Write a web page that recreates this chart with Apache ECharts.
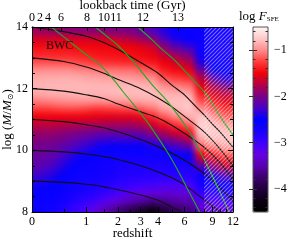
<!DOCTYPE html>
<html><head><meta charset="utf-8">
<style>
html,body{margin:0;padding:0;background:#fff}
#wrap{position:relative;width:304px;height:240px}
#heat,#c{position:absolute;left:0;top:0;width:304px;height:240px}
#heat{filter:blur(3px);clip-path:inset(27px 71px 28px 32px)}
</style>
<script src="https://cdn.jsdelivr.net/npm/echarts@6/dist/echarts.min.js"></script>
</head><body><div id="wrap"><div id="heat"></div><div id="c"></div></div>
<script>
// redshift column edges of the F_SFE map
const zEdges = [0,0.1,0.2,0.3,0.4,0.5,0.65,0.8,1.0,1.2,1.4,1.7,2.0,2.4,2.8,3.3,4.0,4.8,5.8,7.0,8.5,10,12];
// halo mass row edges (log M/Msun)
const massEdges = [8,8.25,8.5,8.75,9,9.25,9.5,9.75,10,10.25,10.5,10.75,11,11.25,11.5,11.75,12,12.25,12.5,12.75,13,13.25,13.5,13.75,14];
// log F_SFE per redshift column, rows from low to high mass
const logFsfe = [
[-2.6,-2.6,-2.55,-2.45,-2.32,-2.2,-2.12,-2.08,-2.02,-1.96,-1.85,-1.7,-1.5,-1.25,-1.05,-0.88,-0.83,-0.88,-1.0,-1.2,-1.35,-1.45,-1.6,-1.85],
[-2.62,-2.6,-2.55,-2.47,-2.35,-2.23,-2.14,-2.09,-2.03,-1.97,-1.85,-1.7,-1.5,-1.25,-1.03,-0.87,-0.83,-0.88,-1.0,-1.2,-1.35,-1.45,-1.6,-1.87],
[-2.65,-2.6,-2.57,-2.5,-2.4,-2.28,-2.18,-2.12,-2.05,-1.98,-1.85,-1.7,-1.5,-1.25,-1.02,-0.86,-0.82,-0.87,-1.0,-1.2,-1.35,-1.45,-1.6,-1.88],
[-2.7,-2.62,-2.58,-2.53,-2.45,-2.34,-2.24,-2.17,-2.08,-1.99,-1.87,-1.7,-1.5,-1.22,-1.0,-0.85,-0.82,-0.87,-1.0,-1.2,-1.35,-1.45,-1.6,-1.9],
[-2.78,-2.66,-2.62,-2.57,-2.5,-2.41,-2.31,-2.23,-2.12,-2.02,-1.9,-1.72,-1.5,-1.2,-0.98,-0.85,-0.82,-0.86,-1.0,-1.2,-1.35,-1.45,-1.6,-1.9],
[-2.85,-2.72,-2.66,-2.61,-2.56,-2.48,-2.39,-2.3,-2.18,-2.06,-1.92,-1.73,-1.5,-1.2,-0.97,-0.84,-0.82,-0.86,-1.0,-1.2,-1.35,-1.46,-1.6,-1.9],
[-2.95,-2.8,-2.72,-2.66,-2.61,-2.56,-2.48,-2.38,-2.25,-2.1,-1.95,-1.74,-1.5,-1.2,-0.96,-0.84,-0.82,-0.87,-1.02,-1.22,-1.37,-1.47,-1.6,-1.92],
[-3.05,-2.88,-2.78,-2.7,-2.65,-2.61,-2.56,-2.46,-2.31,-2.16,-1.98,-1.76,-1.5,-1.22,-0.95,-0.83,-0.82,-0.88,-1.03,-1.24,-1.38,-1.48,-1.6,-1.93],
[-3.15,-2.95,-2.82,-2.74,-2.67,-2.64,-2.61,-2.52,-2.37,-2.2,-2.0,-1.77,-1.52,-1.25,-0.95,-0.83,-0.83,-0.9,-1.05,-1.27,-1.4,-1.48,-1.6,-1.94],
[-3.3,-3.05,-2.88,-2.78,-2.7,-2.66,-2.64,-2.56,-2.45,-2.28,-2.03,-1.78,-1.53,-1.28,-0.97,-0.83,-0.83,-0.9,-1.07,-1.3,-1.42,-1.48,-1.6,-1.95],
[-3.45,-3.15,-2.95,-2.82,-2.74,-2.7,-2.67,-2.6,-2.48,-2.3,-2.05,-1.79,-1.54,-1.25,-0.96,-0.82,-0.83,-0.92,-1.08,-1.32,-1.43,-1.48,-1.62,-1.96],
[-3.6,-3.25,-3.02,-2.88,-2.78,-2.73,-2.7,-2.62,-2.5,-2.32,-2.06,-1.8,-1.55,-1.24,-0.94,-0.81,-0.83,-0.93,-1.08,-1.33,-1.44,-1.48,-1.65,-1.97],
[-3.75,-3.38,-3.1,-2.93,-2.82,-2.77,-2.73,-2.64,-2.5,-2.3,-2.05,-1.8,-1.55,-1.22,-0.92,-0.8,-0.82,-0.94,-1.1,-1.35,-1.45,-1.49,-1.7,-1.98],
[-3.9,-3.5,-3.2,-3.0,-2.85,-2.8,-2.75,-2.65,-2.5,-2.3,-2.05,-1.8,-1.55,-1.2,-0.9,-0.8,-0.82,-0.95,-1.1,-1.35,-1.45,-1.5,-1.75,-2.0],
[-4.05,-3.55,-3.25,-3.02,-2.87,-2.8,-2.76,-2.66,-2.5,-2.3,-2.02,-1.76,-1.48,-1.15,-0.88,-0.79,-0.84,-0.98,-1.15,-1.38,-1.48,-1.55,-1.85,-2.1],
[-4.25,-3.65,-3.3,-3.05,-2.88,-2.8,-2.75,-2.62,-2.45,-2.2,-1.9,-1.62,-1.35,-1.07,-0.86,-0.79,-0.86,-1.0,-1.2,-1.42,-1.52,-1.62,-1.92,-2.2],
[-4.0,-3.6,-3.35,-3.1,-2.9,-2.8,-2.75,-2.6,-2.4,-2.05,-1.75,-1.45,-1.15,-0.9,-0.8,-0.85,-1.0,-1.2,-1.4,-1.5,-1.7,-1.92,-2.2,-2.38],
[-3.8,-3.55,-3.32,-3.1,-2.9,-2.8,-2.72,-2.55,-2.28,-1.93,-1.6,-1.28,-1.0,-0.82,-0.78,-0.87,-1.05,-1.28,-1.47,-1.62,-1.87,-2.15,-2.42,-2.55],
[-3.7,-3.5,-3.3,-3.1,-2.9,-2.8,-2.7,-2.5,-2.15,-1.8,-1.45,-1.1,-0.85,-0.75,-0.78,-0.9,-1.1,-1.35,-1.55,-1.75,-2.0,-2.3,-2.55,-2.62],
[-3.4,-3.15,-2.95,-2.75,-2.6,-2.35,-1.95,-1.5,-1.15,-0.9,-0.72,-0.7,-0.75,-1.0,-1.2,-1.4,-1.55,-1.75,-2.1,-2.4,-2.6,-2.65,-2.65,-2.65],
[-3.3,-3.1,-2.9,-2.7,-2.45,-2.1,-1.75,-1.4,-1.05,-0.8,-0.75,-0.82,-1.0,-1.2,-1.4,-1.6,-1.85,-2.2,-2.5,-2.65,-2.7,-2.7,-2.7,-2.7],
[-3.25,-3.05,-2.85,-2.6,-2.3,-1.9,-1.55,-1.2,-0.9,-0.78,-0.8,-0.95,-1.15,-1.35,-1.55,-1.75,-2.05,-2.4,-2.6,-2.7,-2.72,-2.72,-2.72,-2.72]
];
// mass growth tracks [z, log M]
const track14 = [[0,14],[0.5,13.85],[1,13.7],[1.5,13.5],[2,13.27],[3,12.85],[4,12.5],[5,12.1],[6,11.8],[7,11.45],[8,11.15],[9,10.85],[10,10.6],[12,10.1]];
const track13 = [[0,13],[0.5,12.88],[1,12.7],[1.5,12.5],[2,12.3],[3,12.0],[4,11.7],[5,11.4],[6,11.1],[8,10.6],[10,10.05],[12,9.5]];
const track12 = [[0,12],[0.5,11.92],[1,11.8],[1.5,11.68],[2,11.5],[3,11.25],[4,11.05],[5,10.8],[6,10.55],[8,10.1],[10,9.6],[12,9.05]];
const track11 = [[0,11],[0.5,10.93],[1,10.83],[1.5,10.73],[2,10.6],[3,10.35],[4,10.12],[5,9.9],[6,9.68],[8,9.25],[10,8.8],[12,8.35]];
const track10 = [[0,10],[0.5,9.95],[1,9.88],[1.5,9.8],[2,9.7],[3,9.5],[4,9.3],[5,9.1],[6,8.88],[8,8.4],[10,8.0],[12,7.6]];
const track9 = [[0,9],[0.5,8.96],[1,8.9],[1.5,8.82],[2,8.72],[3,8.55],[4,8.38],[5,8.15],[6,7.95]];
// green curves [z, log M]
const green1 = [[0.28,14],[0.6,13.55],[1,13.1],[1.4,12.75],[1.75,12.38],[2.2,11.9],[3,11.2],[3.5,10.8],[4.6,9.96],[5.5,9.3],[6.5,8.6],[7.5,8.0]];
const green2 = [[1.24,14],[1.6,13.7],[2,13.4],[2.65,12.87],[3.6,12.15],[4.7,11.55],[5.8,10.95],[6.8,10.4],[8,9.7],[9.5,8.9],[11.4,8.0]];
const green3 = [[2.85,14],[3.6,13.6],[4.2,13.3],[5.1,12.95],[6.5,12.4],[8.3,11.8],[10,11.1],[12,10.5]];
// hatched redshift range
const hatchZ = [8, 12];
// axis ticks
const zTickLabels = [0,1,2,3,4,6,9,12];
const zMinorTicks = [0.5,1.5,2.5,3.5,5,7,8,10,11];
const lookbackLabels = ['0','2','4','6','8','10','11','12','13'];
const lookbackZ = [0,0.107,0.226,0.448,1.018,1.506,1.922,3.124,5.45];
const cbMajor = [-4,-3,-2,-1];
const cbMinor = [-4.4,-4.2,-3.8,-3.6,-3.4,-3.2,-2.8,-2.6,-2.4,-2.2,-1.8,-1.6,-1.4,-1.2,-0.8,-0.6];
const cmap = ['#000000','#0c0014','#22003c','#3c006e','#5a00b4','#6400e6','#3c00ff','#1800ff','#0000ff','#4a00c8','#780088','#b40046','#f00008','#ff3c3c','#ff8c8c','#ffc8c8','#fff6f6'];

const FONT = 'Liberation Serif';
const cells = [];
for (let i = 0; i < logFsfe.length; i++) {
  for (let j = 0; j < logFsfe[i].length; j++) {
    cells.push([zEdges[i] + 1, zEdges[i + 1] + 1, massEdges[j], massEdges[j + 1], logFsfe[i][j]]);
  }
}
const toXY = arr => arr.map(p => [p[0] + 1, p[1]]);
const gridRect = {left: 32, top: 27, width: 201, height: 185, containLabel: false, outerBoundsMode: 'none'};
const X0 = zEdges[0] + 1, X1 = zEdges[zEdges.length - 1] + 1;
const Y0 = massEdges[0], Y1 = massEdges[massEdges.length - 1];

// ---- heat map layer (softened by the page's CSS blur) ----
const heat = echarts.init(document.getElementById('heat'), null, {renderer: 'canvas'});
heat.setOption({
  animation: false,
  grid: [gridRect],
  xAxis: [{type: 'log', logBase: 10, min: 1, max: 13, show: false}],
  yAxis: [{type: 'value', min: 8, max: 14, show: false}],
  visualMap: {type: 'continuous', min: -4.5, max: -0.5, dimension: 4, seriesIndex: 0, inRange: {color: cmap}, show: false},
  series: [{
    type: 'custom', data: cells, clip: false, silent: true, encode: {x: [0, 1], y: [2, 3]},
    renderItem: (params, api) => {
      const x0v = api.value(0), x1v = api.value(1), y0v = api.value(2), y1v = api.value(3);
      const a = api.coord([x0v, y0v]);
      const b = api.coord([x1v, y1v]);
      let l = a[0], r = b[0], t = b[1], btm = a[1];
      const pad = 10;
      if (x0v === X0) l -= pad;
      if (x1v === X1) r += pad;
      if (y0v === Y0) btm += pad;
      if (y1v === Y1) t -= pad;
      return {type: 'rect', shape: {x: l, y: t, width: r - l + 0.6, height: btm - t + 0.6}, style: {fill: api.visual('color')}};
    }
  }]
});

// ---- frame, curves, hatching, colour bar ----
const pat = document.createElement('canvas');
pat.width = 4; pat.height = 4;
const g = pat.getContext('2d');
g.strokeStyle = 'rgba(255,255,255,0.42)';
g.lineWidth = 1.2;
g.beginPath();
g.moveTo(-1, 5); g.lineTo(5, -1);
g.moveTo(-1, 1); g.lineTo(1, -1);
g.moveTo(3, 5); g.lineTo(5, 3);
g.stroke();

const chart = echarts.init(document.getElementById('c'), null, {renderer: 'canvas'});
const axLine = {show: true, lineStyle: {color: '#000', width: 1}};
const lineSeries = (d, color) => ({
  type: 'line', data: toXY(d), xAxisIndex: 0, yAxisIndex: 0, showSymbol: false, smooth: 0.3,
  clip: true, z: 3, silent: true, lineStyle: {color: color, width: 1.1}
});
chart.setOption({
  animation: false,
  backgroundColor: 'transparent',
  textStyle: {fontFamily: FONT},
  grid: [
    gridRect,
    {left: 253, top: 27, width: 15, height: 185, containLabel: false, outerBoundsMode: 'none', show: true, borderColor: '#555', borderWidth: 1, backgroundColor: 'transparent', z: 10}
  ],
  xAxis: [
    {gridIndex: 0, type: 'log', logBase: 10, min: 1, max: 13, position: 'bottom', z: 10,
     axisLine: axLine, splitLine: {show: false},
     axisTick: {inside: true, length: 5, customValues: zTickLabels.map(v => v + 1), lineStyle: {color: '#000'}},
     axisLabel: {customValues: zTickLabels.map(v => v + 1), formatter: v => String(Math.round(v - 1)), color: '#000', fontSize: 12, margin: 4, fontFamily: FONT},
     name: 'redshift', nameLocation: 'middle', nameGap: 15, nameMoveOverlap: false, nameTextStyle: {color: '#000', fontSize: 13, fontFamily: FONT}},
    {gridIndex: 0, type: 'log', logBase: 10, min: 1, max: 13, position: 'bottom', z: 10,
     axisLine: {show: false}, splitLine: {show: false}, axisLabel: {show: false},
     axisTick: {inside: true, length: 3, customValues: zMinorTicks.map(v => v + 1), lineStyle: {color: '#000'}}},
    {gridIndex: 0, type: 'log', logBase: 10, min: 1, max: 13, position: 'top', z: 10,
     axisLine: axLine, splitLine: {show: false},
     axisTick: {inside: true, length: 4, customValues: lookbackZ.map(v => v + 1), lineStyle: {color: '#000'}},
     axisLabel: {customValues: lookbackZ.map(v => v + 1), color: '#000', fontSize: 12, margin: 3, fontFamily: FONT,
       formatter: v => { let k = 0, best = 1e9; lookbackZ.forEach((z, i) => { const d = Math.abs(z + 1 - v); if (d < best) { best = d; k = i; } }); return lookbackLabels[k]; }},
     name: 'lookback time (Gyr)', nameLocation: 'middle', nameGap: 15, nameMoveOverlap: false, nameTextStyle: {color: '#000', fontSize: 13, fontFamily: FONT}},
    {gridIndex: 1, type: 'value', show: false, min: 0, max: 1}
  ],
  yAxis: [
    {gridIndex: 0, type: 'value', min: 8, max: 14, interval: 2, position: 'left', z: 10,
     axisLine: axLine, splitLine: {show: false},
     axisTick: {inside: true, length: 5, lineStyle: {color: '#000'}},
     minorTick: {show: true, splitNumber: 4, length: 3, lineStyle: {color: '#000'}},
     axisLabel: {color: '#000', fontSize: 12, margin: 4, fontFamily: FONT},
     name: '{n|log (}{i|M}{n|/}{i|M}{s|⊙}{n|)}', nameLocation: 'middle', nameGap: 17, nameRotate: 90, nameMoveOverlap: false,
     nameTextStyle: {color: '#000', fontFamily: FONT, rich: {n: {fontSize: 13, fontFamily: FONT, color: '#000'}, i: {fontSize: 13, fontStyle: 'italic', fontFamily: FONT, color: '#000'}, s: {fontSize: 8, fontFamily: 'DejaVu Sans', color: '#000', padding: [6, 0, 0, 0]}}}},
    {gridIndex: 0, type: 'value', min: 8, max: 14, interval: 2, position: 'right', z: 10,
     axisLine: axLine, splitLine: {show: false}, axisLabel: {show: false},
     axisTick: {inside: true, length: 5, lineStyle: {color: '#000'}},
     minorTick: {show: true, splitNumber: 4, length: 3, lineStyle: {color: '#000'}}},
    {gridIndex: 1, type: 'value', min: -4.5, max: -0.5, position: 'right', z: 11,
     axisLine: {show: false}, splitLine: {show: false},
     axisTick: {inside: true, length: 4, customValues: cbMajor, lineStyle: {color: '#333'}},
     axisLabel: {customValues: cbMajor, color: '#000', fontSize: 12, margin: 6, fontFamily: FONT, formatter: v => '\u2212' + Math.abs(v)}},
    {gridIndex: 1, type: 'value', min: -4.5, max: -0.5, position: 'right', z: 11,
     axisLine: {show: false}, splitLine: {show: false}, axisLabel: {show: false},
     axisTick: {inside: true, length: 2.5, customValues: cbMinor, lineStyle: {color: '#333'}}},
    {gridIndex: 1, type: 'value', min: -4.5, max: -0.5, position: 'left', z: 11,
     axisLine: {show: false}, splitLine: {show: false}, axisLabel: {show: false},
     axisTick: {inside: true, length: 4, customValues: cbMajor, lineStyle: {color: '#333'}}},
    {gridIndex: 1, type: 'value', min: -4.5, max: -0.5, position: 'left', z: 11,
     axisLine: {show: false}, splitLine: {show: false}, axisLabel: {show: false},
     axisTick: {inside: true, length: 2.5, customValues: cbMinor, lineStyle: {color: '#333'}}}
  ],
  visualMap: {
    type: 'continuous', min: -4.5, max: -0.5, dimension: 4, seriesIndex: [],
    inRange: {color: cmap}, show: true, calculable: false, hoverLink: false,
    left: 253, top: 27, itemWidth: 15, itemHeight: 185, padding: 0, text: null
  },
  graphic: [
    {type: 'text', left: 46, top: 40, z: 20, style: {text: 'BWC', font: '12px "Liberation Serif"', fill: '#111'}},
    {type: 'text', left: 239, top: 10, z: 20, style: {
      text: '{n|log }{i|F}{s|SFE}', rich: {n: {font: '13px "Liberation Serif"', fill: '#000'}, i: {font: 'italic 13px "Liberation Serif"', fill: '#000'}, s: {font: '7px "Liberation Serif"', fill: '#000', padding: [5, 0, 0, 0]}}}}
  ],
  series: [
    lineSeries(track14, '#111'), lineSeries(track13, '#111'), lineSeries(track12, '#111'),
    lineSeries(track11, '#111'), lineSeries(track10, '#111'), lineSeries(track9, '#111'),
    lineSeries(green1, '#22aa22'), lineSeries(green2, '#22aa22'), lineSeries(green3, '#22aa22'),
    {type: 'custom', xAxisIndex: 0, yAxisIndex: 0, data: [[hatchZ[0] + 1, hatchZ[1] + 1]], z: 5, clip: true, silent: true,
     encode: {x: [0, 1]},
     renderItem: (params, api) => {
       const a = api.coord([api.value(0), 8]);
       const b = api.coord([api.value(1), 14]);
       return {type: 'rect', shape: {x: a[0], y: b[1], width: b[0] - a[0], height: a[1] - b[1]}, style: {fill: {image: pat, repeat: 'repeat'}}};
     }}
  ]
});
</script></body></html>
